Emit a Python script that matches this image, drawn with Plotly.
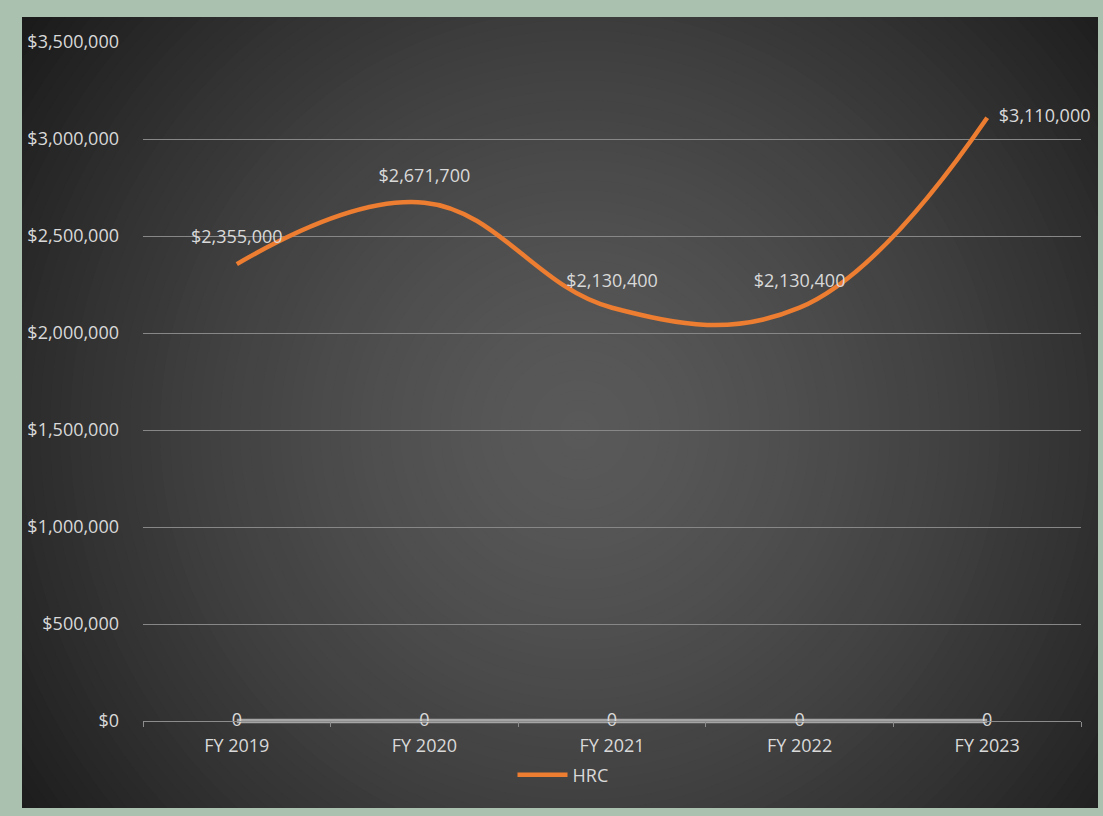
import plotly.graph_objects as go

categories = ["FY 2019", "FY 2020", "FY 2021", "FY 2022", "FY 2023"]
hrc_values = [2355000, 2671700, 2130400, 2130400, 3110000]
other_values = [0, 0, 0, 0, 0]
y_tickvals = [0, 500000, 1000000, 1500000, 2000000, 2500000, 3000000, 3500000]

hrc_labels = ["${:,.0f}".format(v) for v in hrc_values]
other_labels = ["{:d}".format(v) for v in other_values]
y_ticktext = ["${:,.0f}".format(v) for v in y_tickvals]

W, H = 1103, 816
ZERO_PX = 721          # pixel row of the value 0
EXT = 4                # plot area extends a few px below zero so the zero series is not clipped
ML, MR, MT, MB = 143, 22, 42, H - ZERO_PX - EXT
PW, PH = W - ML - MR, H - MT - MB
YMAX = 3500000
YMIN = -YMAX * EXT / (ZERO_PX - MT)

FONT = "Open Sans, Noto Sans, sans-serif"
TXT = "#d9d9d9"
ORANGE = "#ed7d31"
GREY = "#a5a5a5"
BORDER = "#a9c1ae"
AXIS = "#8c8c8c"


def px_x(p):
    return (p - ML) / PW


def px_y(p):
    return (H - MB - p) / PH


fig = go.Figure()

fig.add_trace(go.Scatter(
    x=categories, y=other_values, name="Series2", mode="lines+text",
    line=dict(color=GREY, width=4.5), text=other_labels,
    textposition="middle center",
    textfont=dict(family=FONT, size=18, color=TXT),
    showlegend=False, hoverinfo="skip", cliponaxis=False,
))

fig.add_trace(go.Scatter(
    x=categories, y=hrc_values, name="HRC", mode="lines+markers+text",
    line=dict(color=ORANGE, width=4.5, shape="spline", smoothing=1.15),
    marker=dict(size=[25, 25, 25, 25, 17], color="rgba(0,0,0,0)", line=dict(width=0)),
    text=hrc_labels,
    textposition=["top center", "top center", "top center", "top center", "middle right"],
    textfont=dict(family=FONT, size=18, color=TXT),
    cliponaxis=False,
))

# radial gradient background made of concentric circles
shapes = []
cx, cy = 580, 430
R = 720
N = 72
c0, c1 = 89, 27
for i in range(N, 0, -1):
    r = R * i / N
    t = min(1.0, r / 690)
    v = int(round(c0 + (c1 - c0) * (t ** 1.5)))
    col = "rgb({0},{0},{0})".format(v)
    shapes.append(dict(
        type="circle", xref="paper", yref="paper", layer="below",
        x0=px_x(cx - r), x1=px_x(cx + r), y0=px_y(cy + r), y1=px_y(cy - r),
        fillcolor=col, line=dict(width=0),
    ))
# border frame
IL, IR, IT, IB = 22, 1098, 17, 808
for (a, b, c, d) in [(-5, W + 5, -5, IT), (-5, W + 5, IB, H + 5),
                     (-5, IL, -5, H + 5), (IR, W + 5, -5, H + 5)]:
    shapes.append(dict(
        type="rect", xref="paper", yref="paper", layer="below",
        x0=px_x(a), x1=px_x(b), y0=px_y(d), y1=px_y(c),
        fillcolor=BORDER, line=dict(width=0),
    ))

fig.update_layout(
    width=W, height=H, autosize=False,
    margin=dict(l=ML, r=MR, t=MT, b=MB, pad=0),
    paper_bgcolor=BORDER, plot_bgcolor="rgba(0,0,0,0)",
    font=dict(family=FONT, size=18, color=TXT),
    shapes=shapes,
    showlegend=True,
    legend=dict(orientation="h", x=px_x(563), xanchor="center",
                y=px_y(775), yanchor="middle", bgcolor="rgba(0,0,0,0)",
                itemwidth=50,
                font=dict(family=FONT, size=18, color=TXT)),
    xaxis=dict(type="category", range=[-0.5, 4.5], showgrid=False,
               anchor="free", position=px_y(ZERO_PX),
               showline=True, linecolor=AXIS, linewidth=1,
               ticks="outside", tickson="boundaries", ticklen=5,
               tickcolor=AXIS, tickwidth=1,
               tickfont=dict(family=FONT, size=18, color=TXT),
               ticklabelstandoff=8, zeroline=False, fixedrange=True),
    yaxis=dict(range=[YMIN, YMAX], tickvals=y_tickvals, ticktext=y_ticktext,
               showgrid=True, gridcolor="#878787", gridwidth=1,
               showline=False, zeroline=False, ticks="",
               tickfont=dict(family=FONT, size=18, color=TXT),
               ticklabelstandoff=23, fixedrange=True),
)

fig.write_html("out.html")
